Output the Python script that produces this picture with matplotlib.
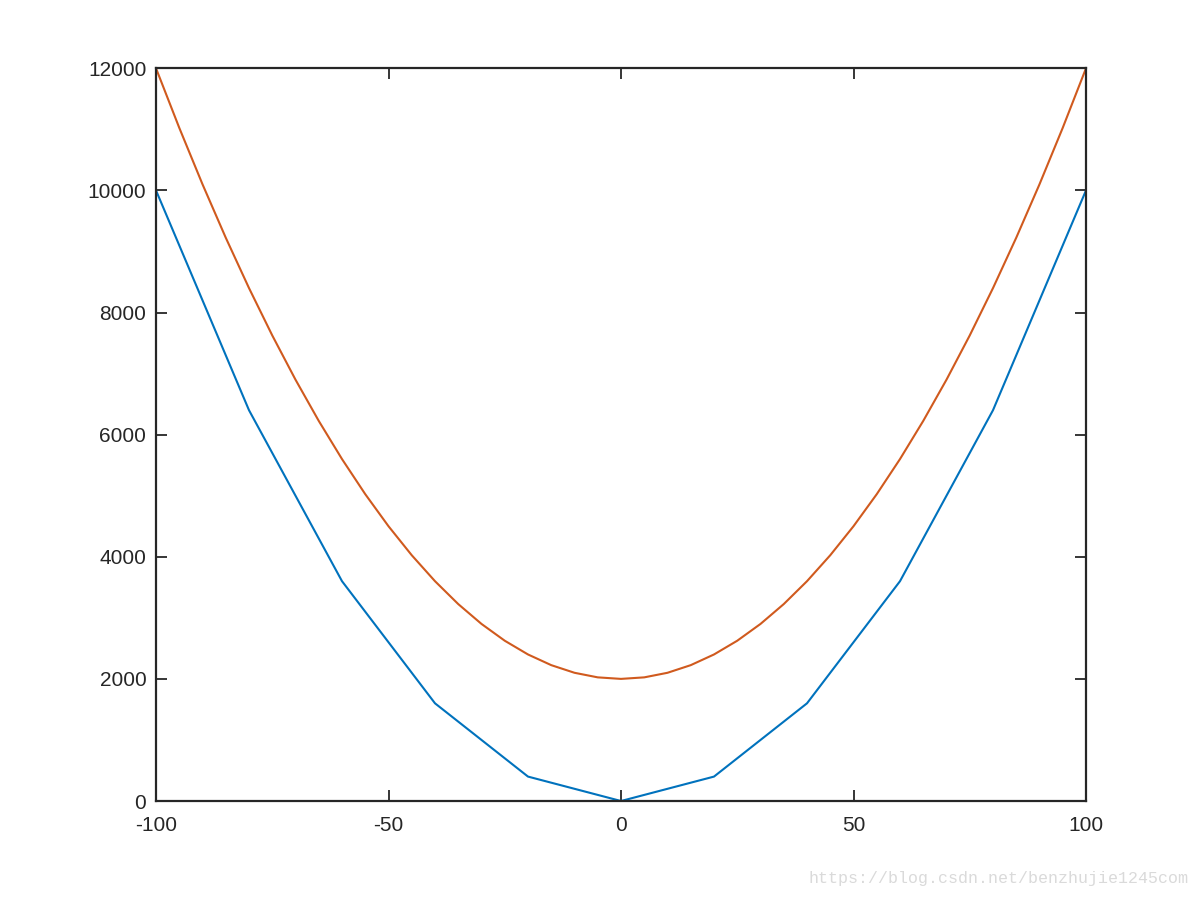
import matplotlib
matplotlib.use('Agg')
import matplotlib.pyplot as plt

# blue series, coarse steps
x1 = [-100, -80, -60, -40, -20, 0, 20, 40, 60, 80, 100]
y1 = [10000, 6400, 3600, 1600, 400, 0, 400, 1600, 3600, 6400, 10000]

# orange series, every 5 units
x2 = [-100, -95, -90, -85, -80, -75, -70, -65, -60, -55, -50, -45, -40,
      -35, -30, -25, -20, -15, -10, -5, 0, 5, 10, 15, 20, 25, 30, 35, 40,
      45, 50, 55, 60, 65, 70, 75, 80, 85, 90, 95, 100]
y2 = [12000, 11025, 10100, 9225, 8400, 7625, 6900, 6225, 5600, 5025, 4500,
      4025, 3600, 3225, 2900, 2625, 2400, 2225, 2100, 2025, 2000, 2025, 2100,
      2225, 2400, 2625, 2900, 3225, 3600, 4025, 4500, 5025, 5600, 6225, 6900,
      7625, 8400, 9225, 10100, 11025, 12000]

xticks = [-100, -50, 0, 50, 100]
yticks = [0, 2000, 4000, 6000, 8000, 10000, 12000]

plt.rcParams['font.family'] = ['Liberation Sans', 'DejaVu Sans']
plt.rcParams['axes.unicode_minus'] = False

fig = plt.figure(figsize=(12, 8.98), dpi=100)
ax = fig.add_axes([0.13, 0.108, 0.775, 0.816])

ax.plot(x1, y1, color='#0072BD', lw=1.5)
ax.plot(x2, y2, color='#D05A1E', lw=1.5)

ax.set_xlim(-100, 100)
ax.set_ylim(0, 12000)
ax.set_xticks(xticks)
ax.set_yticks(yticks)
ax.tick_params(direction='in', top=True, right=True, length=8, width=1.3,
               color='#262626', labelcolor='#262626', labelsize=15)
ax.tick_params(axis='x', pad=11)
ax.tick_params(axis='y', pad=7)
for s in ax.spines.values():
    s.set_color('#262626')
    s.set_linewidth(1.6)

fig.text(0.99, 0.022, 'https://blog.csdn.net/benzhujie1245com', ha='right',
         va='center', fontsize=12, color='#dadada', family='Liberation Mono')

fig.savefig('out.png', dpi=100)
